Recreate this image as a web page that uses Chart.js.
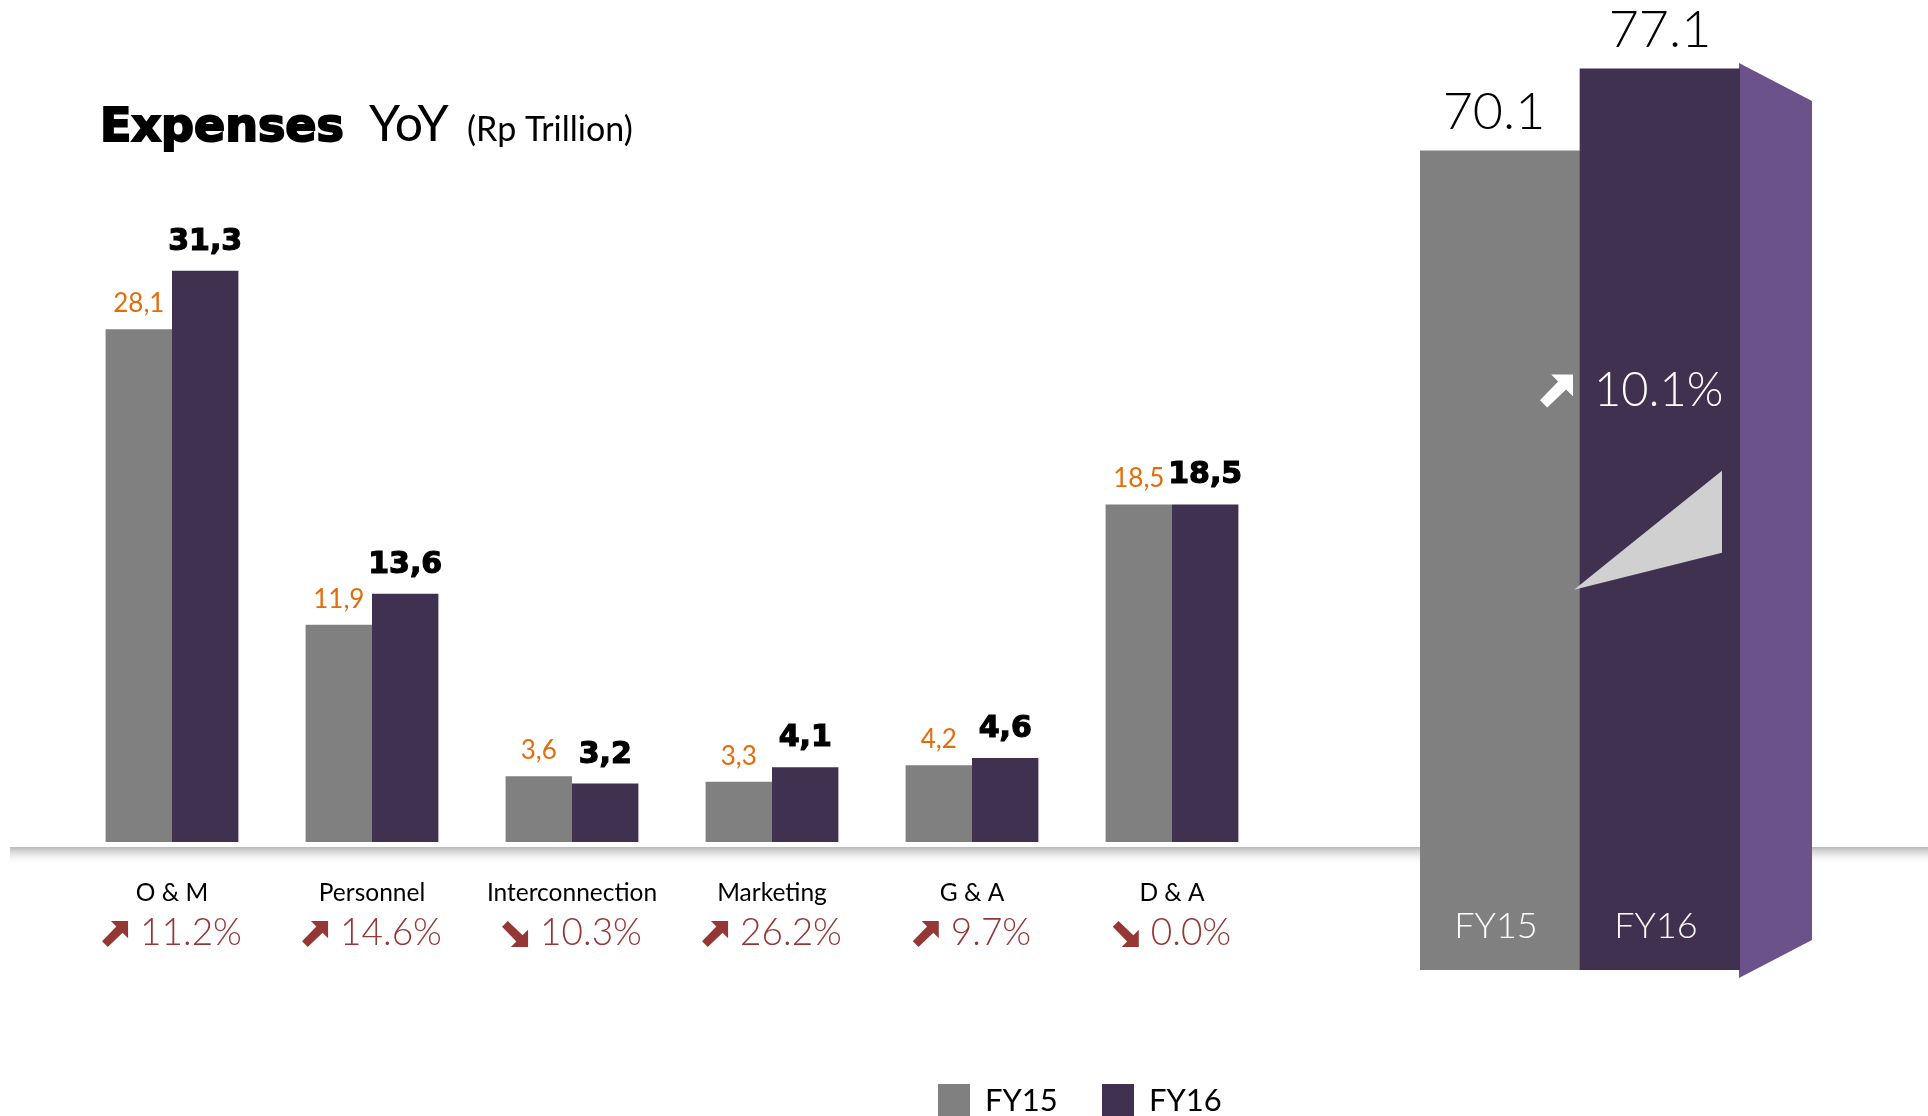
<!DOCTYPE html>
<html>
<head>
<meta charset="utf-8">
<script src="https://cdn.jsdelivr.net/npm/chart.js@4.4.0/dist/chart.umd.min.js"></script>
<style>
  html, body { margin: 0; padding: 0; background: #fff; }
  body { width: 1928px; height: 1116px; position: relative; overflow: hidden; }
  canvas { position: absolute; left: 0; top: 0; }
</style>
</head>
<body>
<canvas id="main" width="1928" height="1116"></canvas>
<canvas id="total" width="1928" height="1116"></canvas>
<script>
// categories and values (Rp Trillion)
const categories = ["O & M", "Personnel", "Interconnection", "Marketing", "G & A", "D & A"];
const fy15 = [28.1, 11.9, 3.6, 3.3, 4.2, 18.5];
const fy16 = [31.3, 13.6, 3.2, 4.1, 4.6, 18.5];
// yoy change text and direction
const yoyText = ["11.2%", "14.6%", "10.3%", "26.2%", "9.7%", "0.0%"];
const yoyUp = [true, true, false, true, true, false];

// total expenses
const years = ["FY15", "FY16"];
const totals = [70.1, 77.1];
const totalChange = "10.1%";

const gray = "#808080";
const purple = "#403151";
const sidePurple = "#6b528a";
const orange = "#e46c0a";
const red = "#953735";

const fmt = (v) => v.toFixed(1).replace(".", ",");

//thick 45 degree arrow in a box of size s, top left at x,y
function drawArrow(ctx, x, y, s, up, color) {
  const pts = [[0.34, 0], [1, 0], [1, 0.66], [0.79, 0.45], [0.22, 1], [0, 0.78], [0.55, 0.21]];
  ctx.fillStyle = color;
  ctx.beginPath();
  pts.forEach((p, i) => {
    const px = x + p[0] * s;
    const py = up ? y + p[1] * s : y + (1 - p[1]) * s;
    if (i == 0) ctx.moveTo(px, py);
    else ctx.lineTo(px, py);
  });
  ctx.closePath();
  ctx.fill();
}

//labels, title, shelf and legend for the main chart
const mainDecor = {
  id: "mainDecor",
  beforeDatasetsDraw(chart) {
    const ctx = chart.ctx;
    const y = chart.chartArea.bottom + 5;
    const g = ctx.createLinearGradient(0, y, 0, y + 18);
    g.addColorStop(0, "#b8b8b8");
    g.addColorStop(1, "rgba(255,255,255,0)");
    ctx.save();
    ctx.fillStyle = g;
    ctx.fillRect(10, y, chart.width - 10, 18);
    ctx.restore();
  },
  afterDatasetsDraw(chart) {
    const ctx = chart.ctx;
    const xScale = chart.scales.x;
    const bottom = chart.chartArea.bottom;
    ctx.save();
    ctx.textAlign = "center";
    ctx.textBaseline = "alphabetic";

    //value labels
    chart.getDatasetMeta(0).data.forEach((bar, i) => {
      ctx.font = "26px Lato";
      ctx.fillStyle = orange;
      ctx.fillText(fmt(fy15[i]), bar.x, bar.y - 17);
    });
    chart.getDatasetMeta(1).data.forEach((bar, i) => {
      ctx.font = "bold 30px 'DejaVu Sans'";
      ctx.fillStyle = "#000";
      ctx.strokeStyle = "#000";
      ctx.lineWidth = 1.2;
      ctx.fillText(fmt(fy16[i]), bar.x, bar.y - 21);
      ctx.strokeText(fmt(fy16[i]), bar.x, bar.y - 21);
    });

    //category names and yoy change
    categories.forEach((c, i) => {
      const x = xScale.getPixelForValue(i);
      ctx.font = "24.5px Lato";
      ctx.fillStyle = "#000";
      ctx.textAlign = "center";
      ctx.textBaseline = "middle";
      ctx.fillText(c, x, bottom + 51);

      const size = 26;
      const gap = 12;
      ctx.font = "300 37px Lato";
      const tw = ctx.measureText(yoyText[i]).width;
      const start = x - (size + gap + tw) / 2;
      const cy = bottom + 91;
      drawArrow(ctx, start, cy - size / 2 + 1, size, yoyUp[i], red);
      ctx.textAlign = "left";
      ctx.fillStyle = red;
      ctx.fillText(yoyText[i], start + size + gap, cy);
    });
    ctx.restore();
  },
  afterDraw(chart) {
    const ctx = chart.ctx;
    ctx.save();
    //title
    ctx.textBaseline = "alphabetic";
    ctx.textAlign = "left";
    ctx.fillStyle = "#000";
    ctx.strokeStyle = "#000";
    ctx.lineWidth = 2;
    ctx.font = "bold 46px 'DejaVu Sans'";
    ctx.fillText("Expenses", 100, 141);
    ctx.strokeText("Expenses", 100, 141);
    ctx.font = "50px Lato";
    ctx.fillText("YoY", 369, 141);
    ctx.font = "34px Lato";
    ctx.fillText("(Rp Trillion)", 467, 141);

    //legend
    const items = chart.data.datasets;
    const xs = [938, 1102];
    items.forEach((ds, i) => {
      ctx.fillStyle = ds.backgroundColor;
      ctx.fillRect(xs[i], 1084, 32, 32);
      ctx.fillStyle = "#000";
      ctx.font = "31px Lato";
      ctx.textBaseline = "middle";
      ctx.fillText(ds.label, xs[i] + 47, 1101);
    });
    ctx.restore();
  }
};

new Chart(document.getElementById("main"), {
  type: "bar",
  data: {
    labels: categories,
    datasets: [
      { label: "FY15", data: fy15, backgroundColor: gray, barPercentage: 1, categoryPercentage: 0.664 },
      { label: "FY16", data: fy16, backgroundColor: purple, barPercentage: 1, categoryPercentage: 0.664 }
    ]
  },
  options: {
    responsive: false,
    animation: false,
    layout: { padding: { left: 72, right: 656, top: 112, bottom: 274 } },
    scales: {
      x: { display: false },
      y: { display: false, min: 0, max: 40 }
    },
    plugins: { legend: { display: false }, tooltip: { enabled: false } }
  },
  plugins: [mainDecor]
});

//3d side, wedge and labels for the total bars
const totalDecor = {
  id: "totalDecor",
  beforeDatasetsDraw(chart) {
    const ctx = chart.ctx;
    const bar = chart.getDatasetMeta(0).data[1];
    const right = bar.x + bar.width / 2;
    ctx.save();
    ctx.fillStyle = sidePurple;
    ctx.beginPath();
    ctx.moveTo(right - 1, bar.y - 6);
    ctx.lineTo(right + 72, bar.y + 32);
    ctx.lineTo(right + 72, bar.base - 30);
    ctx.lineTo(right - 1, bar.base + 8);
    ctx.closePath();
    ctx.fill();
    ctx.restore();
  },
  afterDatasetsDraw(chart) {
    const ctx = chart.ctx;
    const bars = chart.getDatasetMeta(0).data;
    const b16 = bars[1];
    const left16 = b16.x - b16.width / 2;
    const right16 = b16.x + b16.width / 2;
    const h = b16.base - b16.y;
    ctx.save();

    //growth wedge
    ctx.fillStyle = "#d0d0d0";
    ctx.beginPath();
    ctx.moveTo(left16 - 6, b16.y + h * 0.578);
    ctx.quadraticCurveTo(right16 - 90, b16.y + h * 0.51, right16 - 18, b16.y + h * 0.446);
    ctx.lineTo(right16 - 18, b16.y + h * 0.537);
    ctx.closePath();
    ctx.fill();

    //change label
    const cy = b16.y + h * 0.357;
    drawArrow(ctx, left16 - 40, cy - 16, 33, true, "#fff");
    ctx.fillStyle = "#fff";
    ctx.textBaseline = "middle";
    ctx.textAlign = "left";
    ctx.font = "300 47px Lato";
    ctx.fillText(totalChange, left16 + 14, cy);

    bars.forEach((bar, i) => {
      ctx.textAlign = "center";
      ctx.textBaseline = "alphabetic";
      ctx.fillStyle = "#000";
      ctx.font = "300 52px Lato";
      ctx.fillText(totals[i].toFixed(1), bar.x - (i == 0 ? 6 : 0), bar.y - 22);
      ctx.fillStyle = "#fff";
      ctx.font = "300 36px Lato";
      ctx.textBaseline = "middle";
      ctx.fillText(years[i], bar.x - 4, bar.base - 44);
    });
    ctx.restore();
  }
};

new Chart(document.getElementById("total"), {
  type: "bar",
  data: {
    labels: years,
    datasets: [
      { data: totals, backgroundColor: [gray, purple], barPercentage: 1, categoryPercentage: 1 }
    ]
  },
  options: {
    responsive: false,
    animation: false,
    layout: { padding: { left: 1420, right: 188, top: 35, bottom: 146 } },
    scales: {
      x: { display: false },
      y: { display: false, min: 0, max: 80 }
    },
    plugins: { legend: { display: false }, tooltip: { enabled: false } }
  },
  plugins: [totalDecor]
});
</script>
</body>
</html>
